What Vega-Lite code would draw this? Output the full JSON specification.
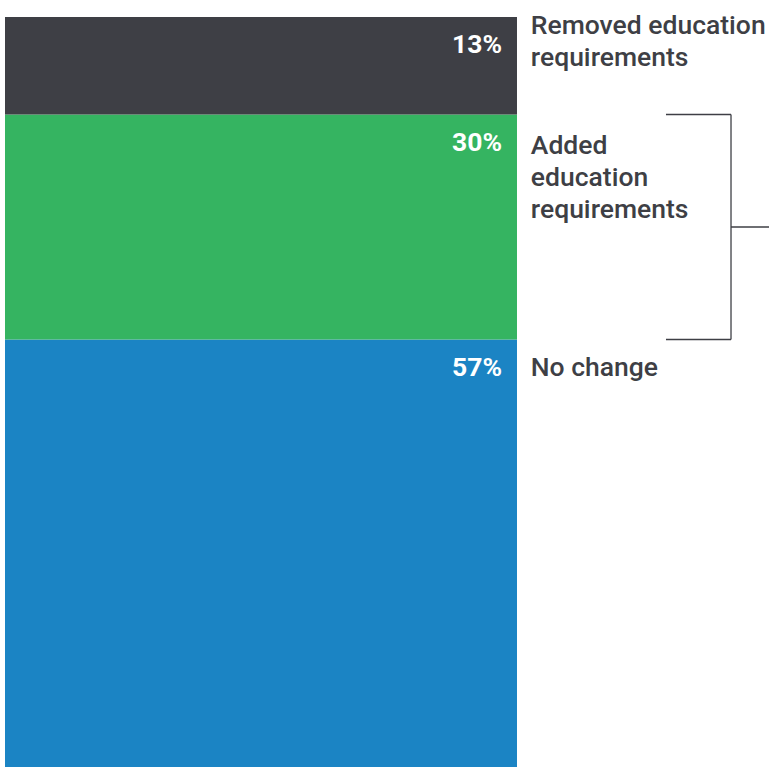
{
  "$schema": "https://vega.github.io/schema/vega-lite/v6.json",
  "width": 764,
  "height": 750,
  "autosize": {"type": "none"},
  "padding": {"left": 5, "top": 17, "right": 0, "bottom": 0},
  "background": "#ffffff",
  "config": {"view": {"stroke": null}, "text": {"font": "Roboto"}},
  "data": {
    "values": [
      {"category": "No change", "label": "No change", "share": 57, "pct": "57%", "order": 1},
      {"category": "Added education requirements", "label": "Added\neducation\nrequirements", "share": 30, "pct": "30%", "order": 2},
      {"category": "Removed education requirements", "label": "Removed education\nrequirements", "share": 13, "pct": "13%", "order": 3}
    ]
  },
  "transform": [
    {"stack": "share", "groupby": [], "sort": [{"field": "order"}], "as": ["y0", "y1"]}
  ],
  "layer": [
    {
      "mark": {"type": "bar", "stroke": null},
      "encoding": {
        "x": {"datum": 0, "type": "quantitative", "scale": {"domain": [0, 149.22], "nice": false, "zero": true}, "axis": null},
        "x2": {"datum": 100},
        "y": {"field": "y1", "type": "quantitative", "scale": {"domain": [0, 100], "nice": false}, "axis": null},
        "y2": {"field": "y0"},
        "color": {
          "field": "category",
          "type": "nominal",
          "scale": {
            "domain": ["Removed education requirements", "Added education requirements", "No change"],
            "range": ["#3e3f45", "#35b461", "#1b84c4"]
          },
          "legend": null
        }
      }
    },
    {
      "mark": {"type": "text", "align": "right", "baseline": "alphabetic", "dy": 36, "fontSize": 26.5, "fontWeight": "bold", "color": "#ffffff"},
      "encoding": {
        "x": {"datum": 97.07, "type": "quantitative"},
        "y": {"field": "y1", "type": "quantitative"},
        "text": {"field": "pct"}
      }
    },
    {
      "transform": [{"filter": "datum.order == 3"}],
      "mark": {"type": "text", "align": "left", "baseline": "alphabetic", "dy": 17, "fontSize": 26.5, "fontWeight": 500, "color": "#3e3f45", "lineBreak": "\n", "lineHeight": 32},
      "encoding": {
        "x": {"datum": 102.7, "type": "quantitative"},
        "y": {"field": "y1", "type": "quantitative"},
        "text": {"field": "label"}
      }
    },
    {
      "transform": [{"filter": "datum.order == 2"}],
      "mark": {"type": "text", "align": "left", "baseline": "alphabetic", "dy": 39, "fontSize": 26.5, "fontWeight": 500, "color": "#3e3f45", "lineBreak": "\n", "lineHeight": 32},
      "encoding": {
        "x": {"datum": 102.7, "type": "quantitative"},
        "y": {"field": "y1", "type": "quantitative"},
        "text": {"field": "label"}
      }
    },
    {
      "transform": [{"filter": "datum.order == 1"}],
      "mark": {"type": "text", "align": "left", "baseline": "alphabetic", "dy": 36, "fontSize": 26.5, "fontWeight": 500, "color": "#3e3f45", "lineBreak": "\n", "lineHeight": 32},
      "encoding": {
        "x": {"datum": 102.7, "type": "quantitative"},
        "y": {"field": "y1", "type": "quantitative"},
        "text": {"field": "label"}
      }
    },
    {
      "transform": [{"filter": "datum.order == 2"}],
      "mark": {"type": "rule", "color": "#3e3f45", "strokeWidth": 1.3},
      "encoding": {
        "x": {"datum": 129.1, "type": "quantitative"},
        "x2": {"datum": 141.8},
        "y": {"field": "y1", "type": "quantitative"}
      }
    },
    {
      "transform": [{"filter": "datum.order == 2"}],
      "mark": {"type": "rule", "color": "#3e3f45", "strokeWidth": 1.3},
      "encoding": {
        "x": {"datum": 129.1, "type": "quantitative"},
        "x2": {"datum": 141.8},
        "y": {"field": "y0", "type": "quantitative"}
      }
    },
    {
      "transform": [{"filter": "datum.order == 2"}],
      "mark": {"type": "rule", "color": "#3e3f45", "strokeWidth": 1.3},
      "encoding": {
        "x": {"datum": 141.8, "type": "quantitative"},
        "y": {"field": "y0", "type": "quantitative"},
        "y2": {"field": "y1"}
      }
    },
    {
      "transform": [
        {"filter": "datum.order == 2"},
        {"fold": ["y0", "y1"], "as": ["edge", "pos"]},
        {"aggregate": [{"op": "mean", "field": "pos", "as": "mid"}]}
      ],
      "mark": {"type": "rule", "color": "#3e3f45", "strokeWidth": 1.3},
      "encoding": {
        "x": {"datum": 141.8, "type": "quantitative"},
        "x2": {"datum": 149.22},
        "y": {"field": "mid", "type": "quantitative"}
      }
    }
  ]
}
